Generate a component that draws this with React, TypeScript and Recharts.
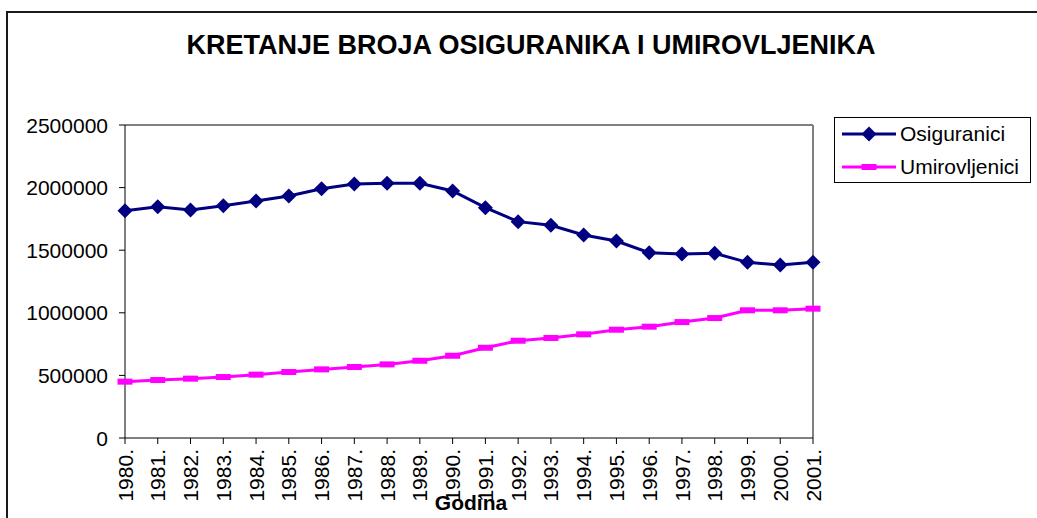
import React from "react";
import { LineChart, Line, XAxis, YAxis, Legend, ReferenceLine } from "recharts";

const years = [
  "1980.", "1981.", "1982.", "1983.", "1984.", "1985.", "1986.", "1987.", "1988.", "1989.", "1990.",
  "1991.", "1992.", "1993.", "1994.", "1995.", "1996.", "1997.", "1998.", "1999.", "2000.", "2001.",
];

const osiguranici = [
  1815000, 1847000, 1821000, 1855000, 1893000, 1933000, 1991000, 2029000, 2034000, 2034000, 1973000,
  1840000, 1728000, 1699000, 1621000, 1573000, 1480000, 1470000, 1475000, 1403000, 1382000, 1403000,
];

const umirovljenici = [
  450000, 463000, 474000, 487000, 506000, 527000, 548000, 567000, 588000, 617000, 657000,
  721000, 777000, 799000, 828000, 865000, 889000, 926000, 958000, 1020000, 1020000, 1033000,
];

const yTicks = [0, 500000, 1000000, 1500000, 2000000, 2500000];

const data = years.map((year, i) => ({
  year,
  osiguranici: osiguranici[i],
  umirovljenici: umirovljenici[i],
}));

const FONT = '"Liberation Sans", Arial, sans-serif';
const NAVY = "#000080";
const PINK = "#FF00FF";

const Diamond = (props: any) => {
  const { cx, cy, fill } = props;
  if (cx == null || cy == null) return null;
  const r = 7.5;
  return <polygon points={`${cx},${cy - r} ${cx + r},${cy} ${cx},${cy + r} ${cx - r},${cy}`} fill={fill} />;
};

const Square = (props: any) => {
  const { cx, cy, fill } = props;
  if (cx == null || cy == null) return null;
  return <rect x={cx - 7.5} y={cy - 3} width={15} height={6} fill={fill} />;
};

const XTick = (props: any) => {
  const { x, y, payload } = props;
  return (
    <text
      transform={`translate(${x},${y + 3}) rotate(-90)`}
      textAnchor="end"
      dy="0.36em"
      fontSize={21}
      fontFamily={FONT}
      fill="#000"
    >
      {payload.value}
    </text>
  );
};

const YTick = (props: any) => {
  const { y, payload } = props;
  return (
    <text x={108} y={y} dy="0.36em" textAnchor="end" fontSize={21} fontFamily={FONT} fill="#000">
      {payload.value}
    </text>
  );
};

const GodinaLabel = (props: any) => {
  const { viewBox } = props;
  return (
    <text
      x={viewBox.x + viewBox.width / 2 + 2}
      y={viewBox.y + 72}
      textAnchor="middle"
      fontSize={21}
      fontWeight="bold"
      fontFamily={FONT}
      fill="#000"
    >
      Godina
    </text>
  );
};

const LegendBox = (props: any) => {
  const { payload } = props;
  return (
    <div
      style={{
        border: "1px solid #000",
        background: "#fff",
        width: 195,
        height: 64,
        boxSizing: "content-box",
        fontFamily: FONT,
        fontSize: 21,
      }}
    >
      {(payload || []).map((p: any, i: number) => (
        <div key={i} style={{ display: "flex", alignItems: "center", height: 33, marginTop: i === 0 ? -1 : 0 }}>
          <svg width={65} height={20} style={{ flex: "none" }}>
            <line x1={7} y1={10} x2={61} y2={10} stroke={p.color} strokeWidth={3} />
            {p.dataKey === "osiguranici" ? (
              <Diamond cx={34} cy={10} fill={p.color} />
            ) : (
              <Square cx={34} cy={10} fill={p.color} />
            )}
          </svg>
          <span style={{ color: "#000", lineHeight: "21px" }}>{p.value}</span>
        </div>
      ))}
    </div>
  );
};

export default function App() {
  return (
    <div
      style={{
        position: "absolute",
        left: 0,
        top: 0,
        width: 1037,
        height: 518,
        background: "#fff",
        overflow: "hidden",
      }}
    >
      <div
        style={{
          position: "absolute",
          left: 6,
          top: 11,
          width: 1200,
          height: 700,
          border: "2px solid #1a1a1a",
        }}
      />
      <div
        style={{
          position: "absolute",
          left: 0,
          top: 30,
          width: 1062,
          textAlign: "center",
          fontFamily: FONT,
          fontWeight: "bold",
          fontSize: 27,
          color: "#000",
        }}
      >
        KRETANJE BROJA OSIGURANIKA I UMIROVLJENIKA
      </div>
      <div style={{ position: "absolute", left: 0, top: 0 }}>
        <LineChart width={1037} height={518} data={data} margin={{ top: 125, right: 224, bottom: 0, left: 0 }}>
          <ReferenceLine y={2500000} stroke="#808080" strokeWidth={2} />
          <ReferenceLine x="2001." stroke="#808080" strokeWidth={2} />
          <XAxis
            dataKey="year"
            height={80}
            interval={0}
            stroke="#000"
            tickLine={{ stroke: "#000" }}
            tickSize={6}
            tick={<XTick />}
            label={<GodinaLabel />}
          />
          <YAxis
            width={125}
            domain={[0, 2500000]}
            ticks={yTicks}
            interval={0}
            stroke="#000"
            tickSize={6}
            tick={<YTick />}
          />
          <Legend
            layout="horizontal"
            verticalAlign="middle"
            align="center"
            content={<LegendBox />}
            wrapperStyle={{ left: 834, top: 117, width: 197, height: 66 }}
          />
          <Line
            type="linear"
            dataKey="osiguranici"
            name="Osiguranici"
            stroke={NAVY}
            strokeWidth={3}
            fill={NAVY}
            dot={<Diamond fill={NAVY} />}
            isAnimationActive={false}
          />
          <Line
            type="linear"
            dataKey="umirovljenici"
            name="Umirovljenici"
            stroke={PINK}
            strokeWidth={3}
            fill={PINK}
            dot={<Square fill={PINK} />}
            isAnimationActive={false}
          />
        </LineChart>
      </div>
    </div>
  );
}
